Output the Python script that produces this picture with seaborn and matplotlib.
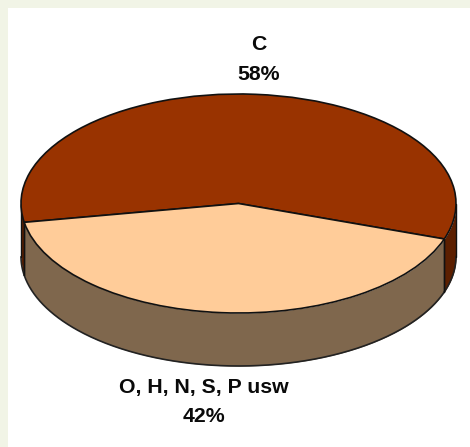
#! /usr/bin/env python3

import numpy as np
import matplotlib
matplotlib.use("Agg")
import matplotlib.pyplot as plt
from matplotlib.patches import Rectangle
import seaborn as sns

sns.set_theme(style="white")
plt.rcParams['font.family'] = ['Liberation Sans', 'DejaVu Sans']

names = ["C", "O, H, N, S, P usw"]
shares = [58, 42]
top_colors = ["#993300", "#FFCC99"]
side_colors = ["#5C1F00", "#7F674D"]

W, H = 470, 447
cx, cy, rx, ry = 238.5, 203.5, 217.5, 109.5
depth = 53 / ry

fig = plt.figure(figsize=(W / 100, H / 100), dpi=100, facecolor="#F1F4E6")
fig.add_artist(Rectangle((8 / W, 0), (W - 8) / W, (H - 8) / H, transform=fig.transFigure,
                         facecolor="white", edgecolor="none", zorder=-1))
ax = fig.add_axes([0, 0, 1, 1])
ax.patch.set_alpha(0)

start = -18.9
ax.pie(shares, colors=sns.color_palette(top_colors), startangle=start, counterclock=True,
       wedgeprops=dict(edgecolor="#111111", linewidth=1.2))

# side wall, follows the slice angles
edges = start + np.cumsum([0] + shares) * 3.6
for i in range(len(shares)):
    a = np.radians(np.linspace(edges[i], edges[i + 1], 300))
    # only the front half of the rim can be seen
    keep = np.sin(a) <= 0
    x = np.cos(a)[keep]
    y = np.sin(a)[keep]
    # the first slice wraps round the back, keep its two parts apart
    gap = np.where(np.diff(np.where(keep)[0]) > 1)[0]
    for xs, ys in zip(np.split(x, gap + 1), np.split(y, gap + 1)):
        ax.fill_between(xs, ys, ys - depth, color=side_colors[i], linewidth=0, zorder=0.5)
        ax.plot(xs, ys - depth, color="#222222", lw=1.2, zorder=0.6, solid_capstyle="round")
        for j in (0, -1):
            ax.plot([xs[j], xs[j]], [ys[j], ys[j] - depth], color="#111111", lw=1.0, zorder=0.6,
                    solid_capstyle="round")

ax.set_aspect("auto")
ax.set_xlim(-cx / rx, (W - cx) / rx)
ax.set_ylim((cy - H) / ry, cy / ry)
ax.axis("off")

label_x = [259, 204]
label_y = [45, 388]
for name, share, lx, ly in zip(names, shares, label_x, label_y):
    ax.text((lx - cx) / rx, (cy - ly) / ry, name, ha="center", va="center",
            fontsize=15.3, fontweight="bold", color="#0a0a0a")
    ax.text((lx - cx) / rx, (cy - ly - 29) / ry, "%d%%" % share, ha="center", va="center",
            fontsize=15.3, fontweight="bold", color="#0a0a0a")

plt.savefig("out.png", dpi=100, facecolor=fig.get_facecolor())
